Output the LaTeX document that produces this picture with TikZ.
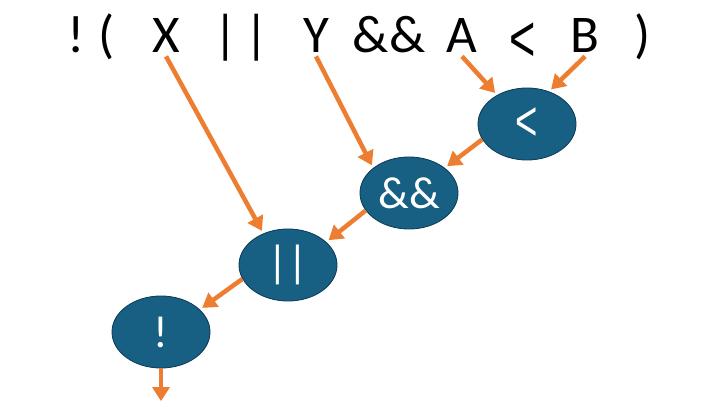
\documentclass[tikz,border=0pt]{standalone}
\usepackage{fontspec}
\setmainfont{Carlito}
\newfontfamily\lessfont{Liberation Sans}
\usepackage{tikz}
\usetikzlibrary{shapes.geometric, arrows.meta}

\definecolor{opblue}{HTML}{175F83}
\definecolor{opline}{HTML}{0E3D56}
\definecolor{flow}{HTML}{ED7D31}

\newcommand{\bigless}{\raisebox{-0.16em}{\scalebox{0.85}[1.25]{\lessfont <}}}

\begin{document}
\begin{tikzpicture}[
  x=0.025cm, y=-0.025cm,
  token/.style={anchor=base, inner sep=0pt, text height=0.65em, text depth=0.22em, font=\fontsize{37.7}{40}\selectfont},
  op/.style={ellipse, draw=opline, line width=0.6pt, fill=opblue, text=white, minimum width=2.45cm, minimum height=1.8cm, inner sep=0pt, font=\fontsize{32}{34}\selectfont},
  arrow/.style={-{Triangle[length=10pt, width=12pt]}, line width=3.2pt, draw=flow, shorten >=2pt}
]
  \useasboundingbox (0,0) rectangle (720,405);

  % expression on top
  \node[token] (bang) at (76,53) {!};
  \node[token] (lpar) at (107,53) {(};
  \node[token] (X) at (166,53) {X};
  \node[token] (bars) at (241,53) {|\kern0.12em|};
  \node[token] (Y) at (316,53) {Y};
  \node[token] (amp) at (389,53) {\&\&};
  \node[token] (A) at (462,53) {A};
  \node[token] (less) at (523,53) {\bigless};
  \node[token] (B) at (585,53) {B};
  \node[token] (rpar) at (643,53) {)};

  % operator tree
  \node[op] (ltop) at (527,124) {\bigless};
  \node[op] (andop) at (409,193) {\&\&};
  \node[op] (orop) at (288,265) {||};
  \node[op] (notop) at (161,332) {!};
  \coordinate (result) at (161,404);

  \draw[arrow] (X.south) -- (orop.128);
  \draw[arrow] (Y.south) -- (andop.145);
  \draw[arrow] (A.south) -- (ltop.136);
  \draw[arrow] (B.south) -- (ltop.56);
  \draw[arrow] (ltop.199) -- (andop.35);
  \draw[arrow] (andop.202) -- (orop.31);
  \draw[arrow] (orop.197) -- (notop.30);
  \draw[arrow] (notop.south) -- (result);
\end{tikzpicture}
\end{document}
